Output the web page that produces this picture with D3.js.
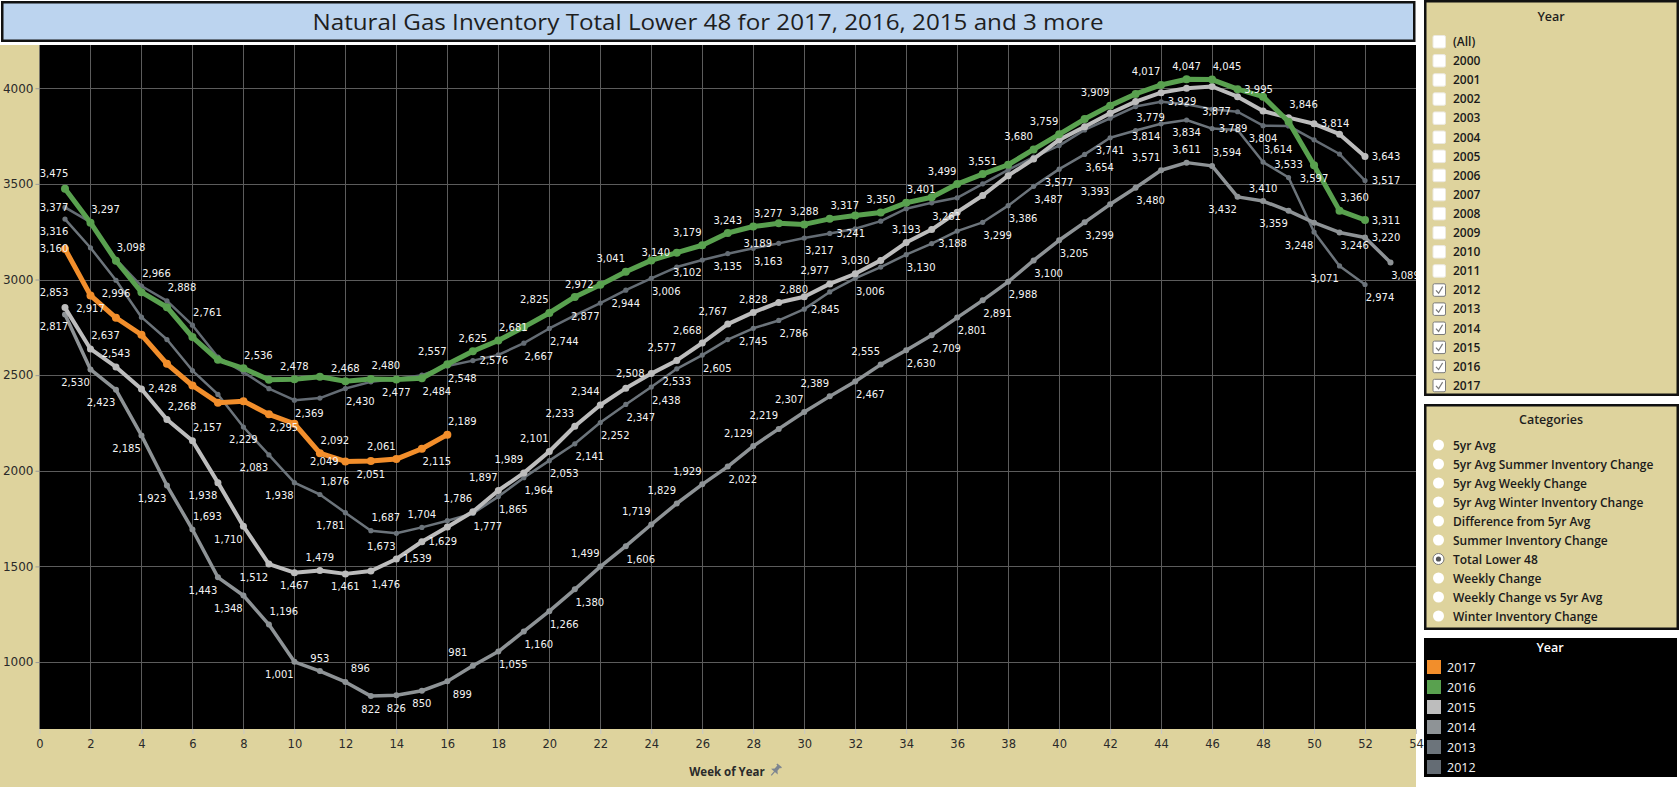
<!DOCTYPE html>
<html><head><meta charset="utf-8">
<script src="https://cdn.jsdelivr.net/npm/d3@7"></script>
<style>
html,body{margin:0;padding:0;background:#fff;overflow:hidden}
svg{display:block}
</style></head><body>
<svg id="c" width="1679" height="787"></svg>
<script>
// ---------------- DATA ----------------
const title = "Natural Gas Inventory Total Lower 48 for 2017, 2016, 2015 and 3 more";
const xAxisTitle = "Week of Year";
const years = ["2017", "2016", "2015", "2014", "2013", "2012"];
// values start at week 1
const v2017 = [3160,2917,2800,2711,2559,2446,2356,2364,2295,2246,2092,2049,2051,2061,2115,2189];
const v2016 = [3475,3297,3098,2934,2855,2699,2580,2536,2476,2478,2492,2468,2480,2477,2484,2557,2625,2681,2751,2825,
               2909,2972,3041,3100,3140,3179,3243,3277,3294,3288,3317,3335,3350,3401,3430,3499,3551,3600,3680,3759,
               3839,3909,3970,4017,4047,4045,3995,3956,3825,3597,3360,3311];
const v2015 = [2853,2637,2543,2428,2268,2157,1938,1710,1512,1467,1479,1461,1476,1539,1629,1706,1786,1897,1989,2101,
               2233,2344,2432,2508,2577,2668,2767,2828,2880,2910,2977,3030,3100,3193,3261,3352,3439,3543,3630,3730,
               3799,3869,3930,3977,4000,4009,3956,3881,3846,3814,3760,3643];
const v2014 = [2817,2530,2423,2185,1923,1693,1443,1348,1196,1001,953,896,822,826,850,899,981,1055,1160,1266,
               1380,1499,1606,1719,1829,1929,2022,2129,2219,2307,2389,2467,2555,2630,2709,2801,2891,2988,3100,3205,
               3299,3393,3480,3571,3611,3594,3432,3410,3359,3297,3246,3220,3089];
const v2013 = [3316,3166,2996,2803,2686,2524,2399,2229,2083,1938,1876,1781,1687,1673,1704,1739,1777,1865,1964,2053,
               2141,2252,2347,2438,2533,2605,2686,2745,2786,2845,2935,3006,3065,3130,3188,3253,3299,3386,3487,3577,
               3654,3741,3779,3814,3834,3789,3782,3614,3533,3248,3071,2974];
const v2012 = [3377,3300,3105,2966,2888,2761,2594,2516,2429,2369,2380,2430,2465,2480,2500,2548,2576,2606,2667,2744,
               2813,2877,2944,3006,3065,3102,3135,3163,3189,3217,3241,3265,3305,3370,3401,3427,3500,3573,3640,3700,
               3782,3843,3904,3929,3916,3890,3877,3804,3803,3730,3656,3517];
const yTicks = [1000, 1500, 2000, 2500, 3000, 3500, 4000];
const xTicks = [0,2,4,6,8,10,12,14,16,18,20,22,24,26,28,30,32,34,36,38,40,42,44,46,48,50,52,54];
const filterItems = ["(All)","2000","2001","2002","2003","2004","2005","2006","2007","2008","2009","2010","2011",
                     "2012","2013","2014","2015","2016","2017"];
const filterChecked = ["2012","2013","2014","2015","2016","2017"];
const categories = ["5yr Avg","5yr Avg Summer Inventory Change","5yr Avg Weekly Change","5yr Avg Winter Inventory Change",
                    "Difference from 5yr Avg","Summer Inventory Change","Total Lower 48","Weekly Change",
                    "Weekly Change vs 5yr Avg","Winter Inventory Change"];
const selectedCategory = "Total Lower 48";

// ---------------- STYLE / LAYOUT ----------------
const valuesByYear = {"2017": v2017, "2016": v2016, "2015": v2015, "2014": v2014, "2013": v2013, "2012": v2012};
const colors = {"2017":"#f28e2b","2016":"#59a14f","2015":"#bdbdbd","2014":"#8e9396","2013":"#6c747b","2012":"#646c74"};
const widths = {"2017":5,"2016":5,"2015":4,"2014":3.5,"2013":2.5,"2012":2.5};
const dotR   = {"2017":4,"2016":4,"2015":3.5,"2014":3,"2013":2.6,"2012":2.6};
// which points carry a data label and where it sits relative to the point
const labelSpec = {
 "2017":"1:L 2:b 9:br 11:ar 12:l 13:b 14:al 15:br 16:ar",
 "2016":"1:La 2:ar 3:ar 8:ar 10:a 12:a 13:ar 14:b 15:br 16:al 17:a 18:ar 20:al 22:l 23:al 25:l 26:al 27:a 28:ar 30:a 31:ar 33:a 34:ar 36:al 37:a 39:al 40:al 42:al 44:al 45:a 46:ar 47:r 50:b 51:ar 52:r",
 "2015":"1:La 2:ar 3:a 4:r 5:ar 6:ar 7:bl 8:bl 9:bl 10:b 11:a 12:b 13:br 14:r 15:r 17:al 18:al 19:al 20:al 21:al 22:al 24:l 25:al 26:al 27:al 28:a 29:ar 31:al 32:a 34:a 35:ar 49:ar 50:r 52:r",
 "2014":"1:Lb 2:bl 3:bl 4:bl 5:bl 6:ar 7:bl 8:bl 9:ar 10:bl 11:a 12:ar 13:b 14:b 15:b 16:br 17:al 18:br 19:br 20:br 21:br 22:al 23:br 24:al 25:al 26:al 27:br 28:al 29:al 30:al 31:al 32:br 33:al 34:br 35:br 36:br 37:br 38:br 39:br 40:br 41:br 42:al 43:br 44:al 45:a 46:ar 47:bl 48:a 49:bl 51:br 52:r 53:br",
 "2013":"1:Lb 3:b 8:b 9:bl 10:bl 11:ar 12:bl 13:ar 14:bl 15:a 17:br 18:br 19:br 20:br 21:br 22:br 23:br 24:br 25:b 26:br 28:b 29:br 30:r 32:br 34:br 35:r 37:br 38:br 39:br 40:b 41:br 42:b 43:ar 44:bl 45:b 46:r 48:ar 49:a 50:bl 51:bl 52:br",
 "2012":"1:L 4:ar 5:ar 6:ar 10:br 12:br 16:br 17:r 19:br 20:br 22:bl 23:b 24:br 26:bl 27:b 28:br 29:l 30:br 31:r 44:r 47:l 48:b 52:r"
};
const off = {a:[0,-13], b:[0,13], al:[-15,-13], ar:[15,-13], bl:[-15,13], br:[15,13],
             l:[-21,0], r:[21,0], L:[-11,0], La:[-11,-15], Lb:[-11,12]};

const TAN = "#ded39d";
const W = 1679, H = 787;
const plot = {l:39.5, r:1416, t:45, b:729};

const svg = d3.select("#c");
const x = d3.scaleLinear().domain([0, 54]).range([plot.l, plot.r]);
const y = d3.scaleLinear().domain([650, 4226]).range([plot.b, plot.t]);

// background
svg.append("rect").attr("width", W).attr("height", H).attr("fill", "#fff");
// title bar
svg.append("rect").attr("x", 2.25).attr("y", 2.25).attr("width", 1412).attr("height", 38.5)
  .attr("fill", "#bcd4ef").attr("stroke", "#111").attr("stroke-width", 2.5);
svg.append("text").attr("x", 708).attr("y", 21.5).attr("text-anchor", "middle")
  .attr("dominant-baseline", "central").attr("font-family", "'Open Sans', sans-serif")
  .attr("font-size", 22.5).attr("fill", "#1e1e1e")
  .attr("textLength", 791).attr("lengthAdjust", "spacingAndGlyphs").text(title);

// axis areas (tan)
svg.append("rect").attr("x", 0).attr("y", plot.t).attr("width", plot.l).attr("height", H - plot.t).attr("fill", TAN);
svg.append("rect").attr("x", 0).attr("y", plot.b).attr("width", plot.r).attr("height", H - plot.b).attr("fill", TAN);
// plot background
svg.append("rect").attr("x", plot.l).attr("y", plot.t).attr("width", plot.r - plot.l).attr("height", plot.b - plot.t).attr("fill", "#000");

// gridlines
const grid = svg.append("g").attr("stroke", "#5c5c5c").attr("stroke-width", 1).attr("shape-rendering", "crispEdges");
grid.selectAll("line.v").data(xTicks.filter(t => t > 0 && t < 54)).join("line")
  .attr("x1", d => Math.round(x(d)) + 0.5).attr("x2", d => Math.round(x(d)) + 0.5)
  .attr("y1", plot.t).attr("y2", plot.b);
grid.selectAll("line.h").data(yTicks).join("line").attr("class", "h")
  .attr("x1", plot.l).attr("x2", plot.r)
  .attr("y1", d => Math.round(y(d)) + 0.5).attr("y2", d => Math.round(y(d)) + 0.5);

// axes
const xAxis = d3.axisBottom(x).tickValues(xTicks).tickSize(5).tickSizeOuter(0).tickPadding(6);
const gx = svg.append("g").attr("transform", `translate(0,${plot.b})`).call(xAxis);
gx.select(".domain").remove();
gx.selectAll(".tick line").attr("stroke", "#c8c8c8");
gx.selectAll(".tick text").attr("font-family", "'DejaVu Sans', sans-serif").attr("font-size", 11.5).attr("fill", "#2a2a2a");

const yAxis = d3.axisLeft(y).tickValues(yTicks).tickSize(4).tickSizeOuter(0).tickPadding(2).tickFormat(d3.format("d"));
const gy = svg.append("g").attr("transform", `translate(${plot.l},0)`).call(yAxis);
gy.select(".domain").remove();
gy.selectAll(".tick line").attr("stroke", "#9a9a9a");
gy.selectAll(".tick text").attr("font-family", "'DejaVu Sans', sans-serif").attr("font-size", 12).attr("fill", "#2a2a2a");

// x axis title + pin
const xt = svg.append("text").attr("x", 727).attr("y", 771).attr("text-anchor", "middle")
  .attr("dominant-baseline", "central").attr("font-family", "'Open Sans', sans-serif")
  .attr("font-weight", 700).attr("font-size", 11.5).attr("fill", "#2a2a2a").text(xAxisTitle);
const xtw = xt.node().getComputedTextLength();
svg.append("path").attr("transform", `translate(${727 + xtw / 2 + 11},770) rotate(40)`)
  .attr("d", "M-3,-6 h6 v1.5 h-1.2 v4 l2.6,2.6 h-8.8 l2.6,-2.6 v-4 h-1.2 z M-0.6,2 h1.2 v5 h-1.2 z")
  .attr("fill", "#7d8590");

// clip
svg.append("clipPath").attr("id", "pc").append("rect")
  .attr("x", plot.l).attr("y", plot.t).attr("width", plot.r - plot.l).attr("height", plot.b - plot.t);
const gp = svg.append("g").attr("clip-path", "url(#pc)");

const series = years.map(yr => ({year: yr, points: valuesByYear[yr].map((v, i) => ({week: i + 1, value: v}))}));
const drawOrder = ["2012", "2013", "2014", "2015", "2016", "2017"];
const line = d3.line().x(d => x(d.week)).y(d => y(d.value));

drawOrder.forEach(yr => {
  const s = series.find(q => q.year === yr);
  const g = gp.append("g");
  g.append("path").datum(s.points).attr("d", line).attr("fill", "none")
    .attr("stroke", colors[yr]).attr("stroke-width", widths[yr]).attr("stroke-linejoin", "round").attr("stroke-linecap", "round");
  g.selectAll("circle").data(s.points).join("circle")
    .attr("cx", d => x(d.week)).attr("cy", d => y(d.value)).attr("r", dotR[yr]).attr("fill", colors[yr]);
});

// labels
const fmt = d3.format(",");
const gl = gp.append("g").attr("font-family", "'DejaVu Sans', sans-serif").attr("font-size", 10)
  .attr("fill", "#f4f4f4").attr("text-anchor", "middle").attr("dominant-baseline", "central");
drawOrder.forEach(yr => {
  const s = series.find(q => q.year === yr);
  labelSpec[yr].split(" ").forEach(tok => {
    const [wk, code] = tok.split(":");
    const p = s.points[+wk - 1];
    const o = off[code];
    gl.append("text").attr("x", x(p.week) + o[0]).attr("y", y(p.value) + o[1]).text(fmt(p.value));
  });
});

// ---------------- RIGHT PANELS ----------------
const PF = "'Open Sans', sans-serif";
// Year filter
svg.append("rect").attr("x", 1425.25).attr("y", 1.25).attr("width", 252.5).attr("height", 393.5)
  .attr("fill", TAN).attr("stroke", "#111").attr("stroke-width", 2.5);
svg.append("text").attr("x", 1551).attr("y", 16.5).attr("text-anchor", "middle").attr("dominant-baseline", "central")
  .attr("font-family", PF).attr("font-weight", 600).attr("font-size", 12.5).attr("fill", "#1e1e1e").text("Year");
const fi = svg.append("g").selectAll("g").data(filterItems).join("g")
  .attr("transform", (d, i) => `translate(0,${41.5 + i * 19.1})`);
fi.append("rect").attr("x", 1433).attr("y", -6).attr("width", 12.5).attr("height", 12.5).attr("rx", 1.5)
  .attr("fill", "#fff").attr("stroke", d => filterChecked.includes(d) ? "#7a7a7a" : "#ece9e0").attr("stroke-width", 1);
fi.filter(d => filterChecked.includes(d)).append("path")
  .attr("d", "M1436,0.6 L1438.6,3.4 L1442.6,-3.2").attr("fill", "none").attr("stroke", "#7a7a7a").attr("stroke-width", 1.2);
fi.append("text").attr("x", 1453).attr("y", 0).attr("dominant-baseline", "central")
  .attr("font-family", PF).attr("font-weight", 600).attr("font-size", 12).attr("fill", "#1a1a1a").text(d => d);

// Categories
svg.append("rect").attr("x", 1425.25).attr("y", 405.25).attr("width", 252.5).attr("height", 223.5)
  .attr("fill", TAN).attr("stroke", "#111").attr("stroke-width", 2.5);
svg.append("text").attr("x", 1551).attr("y", 419.5).attr("text-anchor", "middle").attr("dominant-baseline", "central")
  .attr("font-family", PF).attr("font-weight", 600).attr("font-size", 12.5).attr("fill", "#1e1e1e").text("Categories");
const ci = svg.append("g").selectAll("g").data(categories).join("g")
  .attr("transform", (d, i) => `translate(0,${445 + i * 19})`);
ci.append("circle").attr("cx", 1438.5).attr("cy", 0).attr("r", 5.5).attr("fill", "#fff")
  .attr("stroke", d => d === selectedCategory ? "#777" : "none").attr("stroke-width", 1);
ci.filter(d => d === selectedCategory).append("circle").attr("cx", 1438.5).attr("cy", 0).attr("r", 2.6).attr("fill", "#555");
ci.append("text").attr("x", 1453).attr("y", 0).attr("dominant-baseline", "central")
  .attr("font-family", PF).attr("font-weight", 600).attr("font-size", 12).attr("fill", "#1a1a1a").text(d => d);

// Colour legend
svg.append("rect").attr("x", 1424).attr("y", 638).attr("width", 253).attr("height", 139).attr("fill", "#000");
svg.append("text").attr("x", 1550).attr("y", 647.5).attr("text-anchor", "middle").attr("dominant-baseline", "central")
  .attr("font-family", PF).attr("font-weight", 600).attr("font-size", 12.5).attr("fill", "#fff").text("Year");
const li = svg.append("g").selectAll("g").data(years).join("g")
  .attr("transform", (d, i) => `translate(0,${667 + i * 20})`);
li.append("rect").attr("x", 1427).attr("y", -7).attr("width", 14).attr("height", 14).attr("fill", d => colors[d]);
li.append("text").attr("x", 1447).attr("y", 0).attr("dominant-baseline", "central")
  .attr("font-family", PF).attr("font-size", 12.5).attr("fill", "#f4f4f4").text(d => d);
</script>
</body></html>
